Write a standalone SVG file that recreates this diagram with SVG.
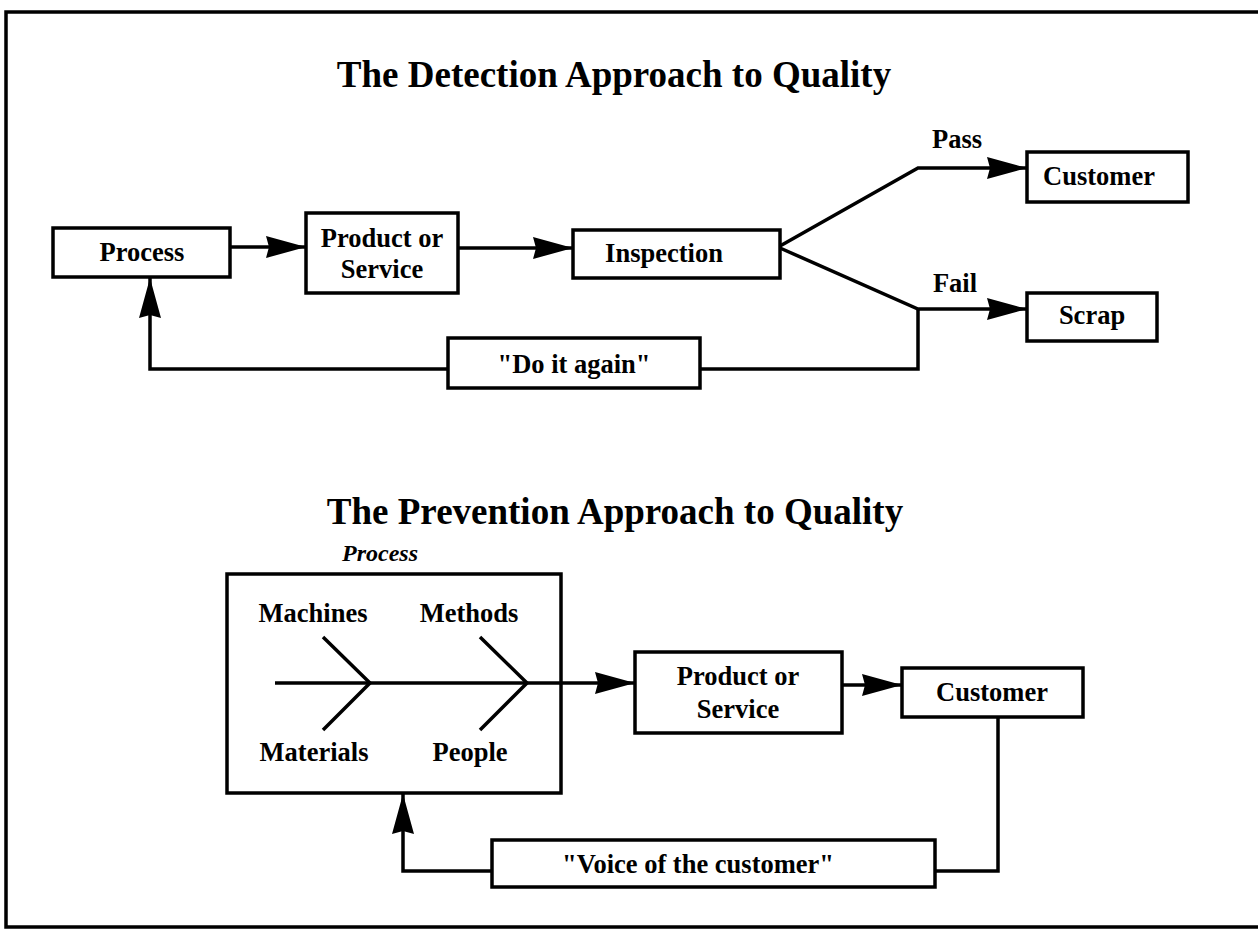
<svg xmlns="http://www.w3.org/2000/svg" width="1258" height="931" viewBox="0 0 1258 931">
<defs>
<marker id="ah" markerUnits="userSpaceOnUse" markerWidth="42" markerHeight="24" refX="40" refY="11" orient="auto" viewBox="0 0 42 24">
<path d="M0,0 L40,11 L0,22 L3,11 z" fill="#000"/>
</marker>
</defs>
<style>
.box{fill:#fff;stroke:#000;stroke-width:3.5}
.ln{fill:none;stroke:#000;stroke-width:3.5;stroke-linejoin:miter}
.t{font-family:"Liberation Serif","Times New Roman",serif;font-weight:bold;font-size:26.5px;text-anchor:middle;fill:#000}
.title{font-family:"Liberation Serif","Times New Roman",serif;font-weight:bold;font-size:37px;text-anchor:middle;fill:#000}
.it{font-style:italic;font-size:24px}
</style>
<rect width="1258" height="931" fill="#fff"/>
<g id="frame">
<path class="ln" d="M1258,12 L6,12 L6,927 L1258,927" stroke-width="4"/>
</g>
<text class="title" x="614" y="87">The Detection Approach to Quality</text>
<text class="title" x="615" y="524">The Prevention Approach to Quality</text>
<g id="connectors">
<line class="ln" x1="230" y1="247" x2="306" y2="247" marker-end="url(#ah)"/>
<line class="ln" x1="458" y1="248" x2="573" y2="248" marker-end="url(#ah)"/>
<polyline class="ln" points="780,246 918,168 1027,168" marker-end="url(#ah)"/>
<polyline class="ln" points="780,248 918,309 1027,309" marker-end="url(#ah)"/>
<polyline class="ln" points="918,309 918,369 700,369"/>
<polyline class="ln" points="448,369 150,369 150,278" marker-end="url(#ah)"/>
<line class="ln" x1="275" y1="683" x2="635" y2="683" marker-end="url(#ah)"/>
<line class="ln" x1="842" y1="685" x2="902" y2="685" marker-end="url(#ah)"/>
<polyline class="ln" points="998,717 998,871 935,871"/>
<polyline class="ln" points="492,871 403,871 403,794" marker-end="url(#ah)"/>
</g>
<g id="process1">
<rect class="box" x="53" y="228" width="177" height="49"/>
<text class="t" x="142" y="261">Process</text>
</g>
<g id="product1">
<rect class="box" x="306" y="213" width="152" height="80"/>
<text class="t" x="382" y="247">Product or</text>
<text class="t" x="382" y="278">Service</text>
</g>
<g id="inspection">
<rect class="box" x="573" y="230" width="207" height="48"/>
<text class="t" x="664" y="262">Inspection</text>
</g>
<g id="customer1">
<rect class="box" x="1027" y="152" width="161" height="50"/>
<text class="t" x="1099" y="185">Customer</text>
</g>
<g id="scrap">
<rect class="box" x="1027" y="293" width="130" height="48"/>
<text class="t" x="1092" y="324">Scrap</text>
</g>
<g id="pass-label"><text class="t" x="957" y="148">Pass</text></g>
<g id="fail-label"><text class="t" x="955" y="292">Fail</text></g>
<g id="doitagain">
<rect class="box" x="448" y="338" width="252" height="50"/>
<text class="t" x="574" y="373">"Do it again"</text>
</g>
<g id="process2">
<text class="t it" x="380" y="561">Process</text>
<rect class="box" x="227" y="574" width="334" height="219"/>
<line class="ln" x1="275" y1="683" x2="561" y2="683"/>
<polyline class="ln" points="323,637 370,683 323,730"/>
<polyline class="ln" points="480,637 527,683 480,730"/>
<text class="t" x="313" y="622">Machines</text>
<text class="t" x="469" y="622">Methods</text>
<text class="t" x="314" y="761">Materials</text>
<text class="t" x="470" y="761">People</text>
</g>
<g id="product2">
<rect class="box" x="635" y="652" width="207" height="81"/>
<text class="t" x="738" y="685">Product or</text>
<text class="t" x="738" y="718">Service</text>
</g>
<g id="customer2">
<rect class="box" x="902" y="668" width="181" height="49"/>
<text class="t" x="992" y="701">Customer</text>
</g>
<g id="voice">
<rect class="box" x="492" y="840" width="443" height="47"/>
<text class="t" x="698" y="873">"Voice of the customer"</text>
</g>
</svg>
